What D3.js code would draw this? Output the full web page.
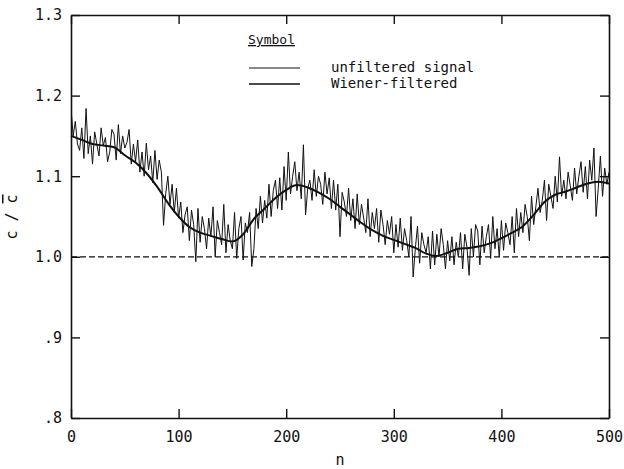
<!DOCTYPE html>
<html><head><meta charset="utf-8">
<script src="https://cdn.jsdelivr.net/npm/d3@7"></script>
<style>body{margin:0;background:#fff}svg{display:block}</style>
</head><body>
<svg id="c" width="624" height="469"></svg>
<script>
const xTicks = [0, 100, 200, 300, 400, 500];
const yTicks = [0.8, 0.9, 1.0, 1.1, 1.2, 1.3];
const yTickLabels = [".8", ".9", "1.0", "1.1", "1.2", "1.3"];
const legendLabels = ["unfiltered signal", "Wiener-filtered"];
const referenceLevel = 1.0;

// smooth (Wiener-filtered) curve, every 10 n
const smoothN = [0,10,20,30,40,50,60,70,80,90,100,110,120,130,140,150,160,170,180,190,200,210,220,230,240,250,260,270,280,290,300,310,320,330,340,350,360,370,380,390,400,410,420,430,440,450,460,470,480,490,500];
const smoothV = [1.150,1.145,1.140,1.138,1.136,1.126,1.117,1.104,1.087,1.067,1.050,1.037,1.030,1.026,1.022,1.019,1.028,1.047,1.060,1.073,1.083,1.089,1.086,1.080,1.072,1.062,1.052,1.042,1.033,1.026,1.021,1.016,1.011,1.004,1.001,1.005,1.010,1.011,1.013,1.017,1.023,1.030,1.038,1.052,1.068,1.077,1.081,1.086,1.091,1.093,1.091];

// unfiltered signal, every 2 n
const rawV = [
1.185,1.150,1.168,1.140,1.132,1.160,1.122,1.184,1.128,1.150,
1.115,1.155,1.140,1.125,1.160,1.138,1.148,1.118,1.130,1.158,
1.152,1.120,1.164,1.128,1.150,1.135,1.142,1.158,1.115,1.140,
1.118,1.145,1.105,1.130,1.100,1.141,1.108,1.125,1.092,1.132,
1.096,1.120,1.105,1.039,1.078,1.100,1.065,1.090,1.055,1.085,
1.048,1.068,1.030,1.052,1.062,1.020,1.058,1.040,0.994,1.060,
1.018,1.050,1.035,1.010,1.048,1.025,1.062,1.000,1.045,1.030,
1.015,1.065,1.005,1.040,1.020,1.010,1.055,0.998,1.035,1.050,
0.996,1.042,1.030,1.055,0.988,1.010,1.060,1.035,1.075,1.042,
1.070,1.048,1.090,1.050,1.082,1.095,1.060,1.098,1.058,1.112,
1.070,1.130,1.078,1.100,1.118,1.082,1.105,1.072,1.139,1.052,
1.085,1.095,1.070,1.108,1.075,1.100,1.090,1.065,1.105,1.078,
1.098,1.060,1.095,1.058,1.090,1.025,1.080,1.068,1.050,1.085,
1.045,1.072,1.035,1.078,1.040,1.065,1.048,1.030,1.072,1.025,
1.055,1.035,1.060,1.018,1.058,1.040,1.015,1.045,1.028,1.050,
1.005,1.040,1.012,1.048,1.008,1.035,1.020,1.000,1.050,0.975,
1.010,1.038,0.992,1.030,1.015,1.005,1.025,0.985,1.032,0.990,
1.028,1.000,1.035,1.015,0.985,1.020,0.995,1.025,0.990,1.018,
1.000,1.030,0.985,1.028,1.012,0.977,1.035,1.000,1.040,1.032,
0.990,1.038,1.005,1.025,1.040,0.998,1.050,1.010,1.035,1.000,
1.045,1.008,1.042,1.030,1.015,1.050,1.005,1.060,1.025,1.055,
1.030,1.065,1.050,1.020,1.075,1.040,1.062,1.085,1.055,1.070,
1.095,1.045,1.090,1.075,1.060,1.100,1.068,1.124,1.075,1.095,
1.072,1.105,1.088,1.070,1.110,1.078,1.100,1.118,1.080,1.112,
1.072,1.120,1.095,1.135,1.050,1.085,1.125,1.075,1.110,1.090,
1.105];
const rawN = rawV.map((v, i) => i * 2);

const svg = d3.select("#c");
const font = "'DejaVu Sans Mono', monospace";
const x = d3.scaleLinear().domain([0, 500]).range([71, 609]);
const y = d3.scaleLinear().domain([0.8, 1.3]).range([418, 15]);

svg.append("clipPath").attr("id", "clip").append("rect")
  .attr("x", 71).attr("y", 15).attr("width", 538).attr("height", 403);

// reference dashed line
svg.append("line")
  .attr("x1", x(0)).attr("x2", x(500)).attr("y1", y(referenceLevel)).attr("y2", y(referenceLevel))
  .attr("stroke", "#111").attr("stroke-width", 1.3).attr("stroke-dasharray", "6,3");

const line = d3.line().x(d => x(d[0])).y(d => y(d[1]));
svg.append("path").datum(rawN.map((n, i) => [n, rawV[i]]))
  .attr("d", line).attr("fill", "none").attr("stroke", "#111").attr("stroke-width", 1)
  .attr("clip-path", "url(#clip)");
svg.append("path").datum(smoothN.map((n, i) => [n, smoothV[i]]))
  .attr("d", d3.line().curve(d3.curveMonotoneX).x(d => x(d[0])).y(d => y(d[1])))
  .attr("fill", "none").attr("stroke", "#111").attr("stroke-width", 2);

// axes (inner ticks on all four sides)
const tl = 9;
const fmtY = d => yTickLabels[yTicks.indexOf(d)];
const ax = [
  [d3.axisBottom(x).tickValues(xTicks).tickSize(-tl).tickFormat(d3.format("d")), 0, 418],
  [d3.axisTop(x).tickValues(xTicks).tickSize(-tl).tickFormat(""), 0, 15],
  [d3.axisLeft(y).tickValues(yTicks).tickSize(-tl).tickFormat(fmtY), 71, 0],
  [d3.axisRight(y).tickValues(yTicks).tickSize(-tl).tickFormat(""), 609, 0]
];
ax.forEach(([a, tx, ty], k) => {
  const g = svg.append("g").attr("transform", `translate(${tx},${ty})`).call(a.tickSizeOuter(0));
  g.select(".domain").attr("stroke", "#111").attr("stroke-width", 1.6);
  g.selectAll(".tick line").attr("stroke", "#111").attr("stroke-width", 1.4);
  g.selectAll("text").attr("font-family", font).attr("font-size", 15).attr("fill", "#111");
  if (k === 0) g.selectAll("text").attr("dy", "1.4em");
  if (k === 2) g.selectAll("text").attr("x", -9);
});

// axis titles
svg.append("text").attr("x", 340).attr("y", 465).attr("text-anchor", "middle")
  .attr("font-family", font).attr("font-size", 15).attr("fill", "#111").text("n");
const yl = svg.append("text").attr("transform", "translate(17,217) rotate(-90)")
  .attr("text-anchor", "middle").attr("font-family", font).attr("font-size", 15).attr("fill", "#111");
yl.append("tspan").text("c / ");
yl.append("tspan").attr("text-decoration", "overline").text("c");

// legend
svg.append("text").attr("x", 248).attr("y", 44).attr("font-family", font).attr("font-size", 13)
  .attr("fill", "#111").attr("text-decoration", "underline").text("Symbol");
legendLabels.forEach((t, i) => {
  const yy = 68 + i * 16;
  svg.append("line").attr("x1", 249).attr("x2", 300).attr("y1", yy).attr("y2", yy)
    .attr("stroke", "#111").attr("stroke-width", i === 0 ? 1 : 1.5);
  svg.append("text").attr("x", 331).attr("y", yy + 4).attr("font-family", font).attr("font-size", 14)
    .attr("fill", "#111").text(t);
});
</script>
</body></html>
